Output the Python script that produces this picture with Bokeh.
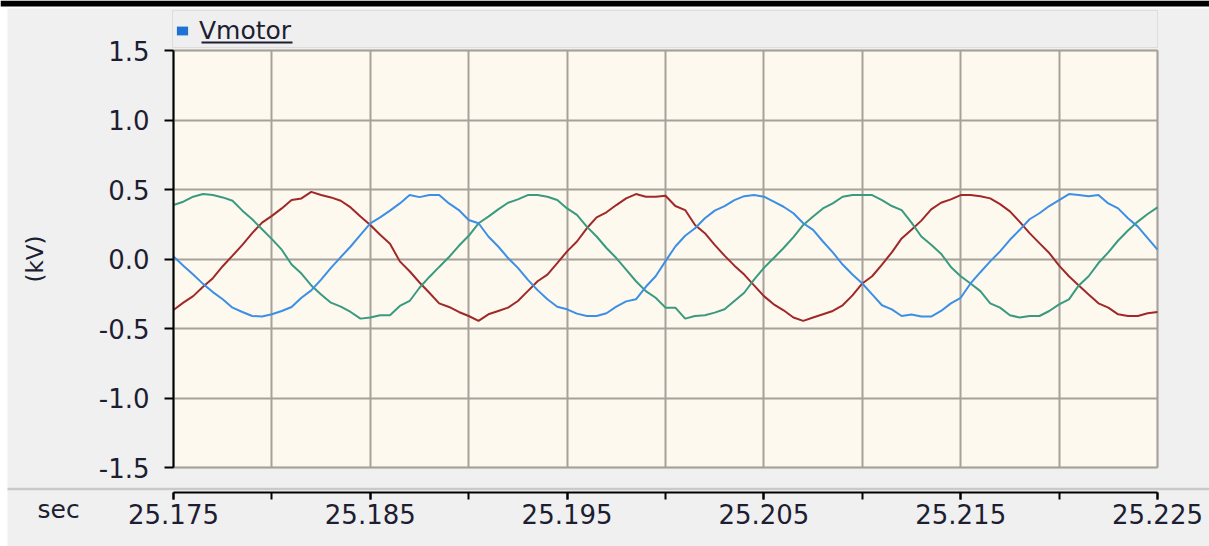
from bokeh.plotting import figure
from bokeh.models import (Legend, LegendItem, FixedTicker, Grid, Range1d,
                          Label, BoxAnnotation, LinearAxis)
from bokeh.embed import file_html
from bokeh.resources import INLINE

# ---------------- data ----------------
SERIES_NAME = "Vmotor"
Y_TITLE = "(kV)"
X_TITLE = "sec"

T_START = 25.175
T_STEP = 0.0005

PHASE_BLUE = [
    0.019, -0.048, -0.112, -0.179, -0.238, -0.290, -0.350, -0.381, -0.410, -0.414,
    -0.398, -0.374, -0.345, -0.279, -0.226, -0.148, -0.064, 0.014, 0.090, 0.174,
    0.257, 0.300, 0.348, 0.400, 0.460, 0.445, 0.460, 0.460, 0.400, 0.352,
    0.281, 0.257, 0.162, 0.090, 0.007, -0.064, -0.148, -0.224, -0.290, -0.343,
    -0.362, -0.393, -0.410, -0.410, -0.390, -0.343, -0.305, -0.290, -0.200, -0.124,
    -0.015, 0.090, 0.167, 0.221, 0.293, 0.348, 0.381, 0.424, 0.452, 0.460,
    0.448, 0.412, 0.376, 0.329, 0.257, 0.210, 0.126, 0.048, -0.040, -0.112,
    -0.176, -0.255, -0.333, -0.362, -0.410, -0.400, -0.414, -0.414, -0.374, -0.319,
    -0.279, -0.176, -0.095, -0.017, 0.055, 0.138, 0.210, 0.286, 0.329, 0.381,
    0.424, 0.467, 0.460, 0.452, 0.460, 0.400, 0.364, 0.293, 0.233, 0.150,
    0.067,
]
PHASE_RED = [
    -0.367, -0.314, -0.267, -0.200, -0.138, -0.052, 0.024, 0.102, 0.186, 0.262,
    0.310, 0.364, 0.424, 0.436, 0.483, 0.460, 0.443, 0.419, 0.371, 0.305,
    0.245, 0.174, 0.110, -0.017, -0.088, -0.169, -0.243, -0.319, -0.345, -0.381,
    -0.410, -0.445, -0.398, -0.374, -0.350, -0.302, -0.231, -0.160, -0.112, -0.029,
    0.055, 0.126, 0.221, 0.300, 0.336, 0.388, 0.436, 0.467, 0.448, 0.448,
    0.455, 0.381, 0.352, 0.245, 0.186, 0.102, 0.024, -0.048, -0.112, -0.190,
    -0.267, -0.326, -0.369, -0.421, -0.445, -0.421, -0.398, -0.374, -0.333, -0.262,
    -0.176, -0.124, -0.040, 0.048, 0.148, 0.210, 0.276, 0.357, 0.405, 0.429,
    0.460, 0.460, 0.452, 0.436, 0.395, 0.343, 0.267, 0.186, 0.114, 0.043,
    -0.048, -0.124, -0.190, -0.255, -0.319, -0.350, -0.398, -0.410, -0.410, -0.390,
    -0.381,
]
PHASE_GREEN = [
    0.388, 0.412, 0.448, 0.467, 0.460, 0.443, 0.419, 0.348, 0.286, 0.214,
    0.143, 0.067, -0.040, -0.105, -0.190, -0.255, -0.314, -0.343, -0.381, -0.429,
    -0.421, -0.405, -0.405, -0.338, -0.302, -0.207, -0.129, -0.057, 0.014, 0.095,
    0.167, 0.257, 0.305, 0.357, 0.405, 0.429, 0.460, 0.460, 0.448, 0.424,
    0.364, 0.317, 0.233, 0.162, 0.079, 0.007, -0.076, -0.160, -0.231, -0.279,
    -0.350, -0.350, -0.429, -0.410, -0.405, -0.386, -0.362, -0.302, -0.243, -0.148,
    -0.064, 0.007, 0.079, 0.157, 0.245, 0.305, 0.364, 0.400, 0.448, 0.460,
    0.460, 0.460, 0.424, 0.381, 0.352, 0.262, 0.162, 0.102, 0.038, -0.057,
    -0.124, -0.176, -0.231, -0.319, -0.350, -0.405, -0.421, -0.410, -0.410, -0.374,
    -0.326, -0.290, -0.190, -0.124, -0.029, 0.048, 0.133, 0.205, 0.269, 0.324,
    0.371,
]
TIME = [round(T_START + i * T_STEP, 6) for i in range(len(PHASE_BLUE))]

X_MIN, X_MAX = 25.175, 25.225
Y_MIN, Y_MAX = -1.5, 1.5
Y_TICKS = [-1.5, -1.0, -0.5, 0.0, 0.5, 1.0, 1.5]
Y_LABELS = ["-1.5", "-1.0", "-0.5", "0.0", "0.5", "1.0", "1.5"]
X_TICKS = [25.175, 25.185, 25.195, 25.205, 25.215, 25.225]
X_LABELS = ["25.175", "25.185", "25.195", "25.205", "25.215", "25.225"]
X_GRID = [25.175, 25.18, 25.185, 25.19, 25.195, 25.2, 25.205, 25.21, 25.215, 25.22, 25.225]

# ---------------- style / layout ----------------
FONT = "DejaVu Sans"
PAGE_BG = "#f0f0f0"
PLOT_BG = "#fdf9ef"
GRID_C = "#a6a29a"
TEXT_C = "#1e1e32"
BLUE = "#3d8fe6"
RED = "#a02828"
GREEN = "#3a9a80"
LEGEND_BLUE = "#1e72d4"
SEP_C = "#c9c9c9"

W, H = 1209, 546             # canvas
PLOT_L, PLOT_R = 173, 1157   # plot area in canvas pixels
PLOT_T, PLOT_B = 50, 467
AXIS_Y = 492                 # time-axis line
SEP_Y = 488.5                # separator line
LEG_T, LEG_B = 10, 47        # legend strip

XPP = (X_MAX - X_MIN) / (PLOT_R - PLOT_L)
YPP = (Y_MAX - Y_MIN) / (PLOT_B - PLOT_T)


def px_x(px):
    return X_MIN + (px - PLOT_L) * XPP


def px_y(py):
    return Y_MAX - (py - PLOT_T) * YPP


p = figure(width=W, height=H, min_border=0,
           x_range=Range1d(px_x(0), px_x(W)), y_range=Range1d(px_y(H), px_y(0)),
           x_axis_location=None, y_axis_location=None,
           output_backend="svg", toolbar_location=None,
           background_fill_color="white", border_fill_color="white",
           outline_line_color=None)
# drop the default (unbounded) grids
p.center = [r for r in p.center if not isinstance(r, Grid)]

# window chrome: dark bar at the very top, grey panel
p.add_layout(BoxAnnotation(left=px_x(0), right=px_x(W), top=px_y(0), bottom=px_y(6),
                           fill_color="black", fill_alpha=1.0, line_color=None, level="image"))
p.add_layout(BoxAnnotation(left=px_x(7), right=px_x(W), top=px_y(8), bottom=px_y(H),
                           fill_color=PAGE_BG, fill_alpha=1.0, line_color=None, level="image"))
# cream plot area with its border
p.add_layout(BoxAnnotation(left=X_MIN, right=X_MAX, bottom=Y_MIN, top=Y_MAX,
                           fill_color=PLOT_BG, fill_alpha=1.0,
                           line_color=GRID_C, line_width=2, level="image"))
# legend strip background
p.add_layout(BoxAnnotation(left=px_x(PLOT_L - 1), right=px_x(PLOT_R), top=px_y(LEG_T), bottom=px_y(LEG_B),
                           fill_color="#efefef", fill_alpha=1.0,
                           line_color="#b4b4b4", line_width=1, level="image"))


# grid lines, limited to the plot area
def add_grid(dim, ticks, cross):
    g = Grid(dimension=dim, ticker=FixedTicker(ticks=ticks),
             grid_line_color=GRID_C, grid_line_width=2)
    try:
        g.cross_bounds = cross
        p.add_layout(g)
    except (AttributeError, ValueError):
        if dim == 0:
            p.segment(x0=ticks, x1=ticks, y0=[cross[0]] * len(ticks), y1=[cross[1]] * len(ticks),
                      line_color=GRID_C, line_width=2)
        else:
            p.segment(y0=ticks, y1=ticks, x0=[cross[0]] * len(ticks), x1=[cross[1]] * len(ticks),
                      line_color=GRID_C, line_width=2)


add_grid(0, X_GRID, (Y_MIN, Y_MAX))
add_grid(1, Y_TICKS, (X_MIN, X_MAX))

# separator between plot and time axis
p.add_layout(BoxAnnotation(left=px_x(7), right=px_x(W), top=px_y(SEP_Y - 1.2), bottom=px_y(SEP_Y + 1.2),
                           fill_color=SEP_C, fill_alpha=1.0, line_color=None, level="underlay"))
# underline of the legend label
p.add_layout(BoxAnnotation(left=px_x(201), right=px_x(292), top=px_y(41), bottom=px_y(43),
                           fill_color=TEXT_C, fill_alpha=1.0, line_color=None, level="underlay"))

# data lines
p.line(TIME, PHASE_RED, line_color=RED, line_width=2)
p.line(TIME, PHASE_GREEN, line_color=GREEN, line_width=2)
p.line(TIME, PHASE_BLUE, line_color=BLUE, line_width=2)

# y axis
yax = LinearAxis(fixed_location=X_MIN, bounds=(Y_MIN, Y_MAX),
                 ticker=FixedTicker(ticks=Y_TICKS, minor_ticks=[]))
yax.major_label_overrides = {t: l for t, l in zip(Y_TICKS, Y_LABELS)}
yax.axis_label = Y_TITLE
yax.axis_label_text_font = FONT
yax.axis_label_text_font_size = "23px"
yax.axis_label_text_font_style = "normal"
yax.axis_label_text_color = TEXT_C
yax.axis_label_standoff = 48
yax.major_label_text_font = FONT
yax.major_label_text_font_size = "26px"
yax.major_label_text_color = TEXT_C
yax.major_label_standoff = 15
yax.axis_line_color = "black"
yax.axis_line_width = 2
yax.major_tick_line_color = "black"
yax.major_tick_line_width = 2
yax.major_tick_out = 9
yax.major_tick_in = 0
yax.minor_tick_line_color = None
p.add_layout(yax, "left")

# time axis
xax = LinearAxis(fixed_location=px_y(AXIS_Y), bounds=(X_MIN, X_MAX),
                 ticker=FixedTicker(ticks=X_TICKS, minor_ticks=X_GRID))
xax.major_label_overrides = {t: l for t, l in zip(X_TICKS, X_LABELS)}
xax.major_label_text_font = FONT
xax.major_label_text_font_size = "26px"
xax.major_label_text_color = TEXT_C
xax.major_label_standoff = 4
xax.axis_line_color = "black"
xax.axis_line_width = 2
xax.major_tick_line_color = "black"
xax.major_tick_line_width = 2
xax.major_tick_out = 7
xax.major_tick_in = 0
xax.minor_tick_line_color = "black"
xax.minor_tick_line_width = 2
xax.minor_tick_out = 7
xax.minor_tick_in = 0
p.add_layout(xax, "below")

p.add_layout(Label(x=px_x(37), y=px_y(509), text=X_TITLE,
                   text_baseline="middle", text_align="left",
                   text_font=FONT, text_font_size="25px", text_color=TEXT_C))

# legend (transparent: its strip is drawn above)
sq = p.quad(left=TIME[:1], right=TIME[:1], top=PHASE_BLUE[:1], bottom=PHASE_BLUE[:1],
            fill_color=LEGEND_BLUE, line_color=None)
LEG_W = PLOT_R - PLOT_L + 1
legend = Legend(items=[LegendItem(label=SERIES_NAME, renderers=[sq])],
                location=(PLOT_L + 2, H - LEG_B + 2), orientation="horizontal",
                margin=0, padding=5, spacing=0,
                glyph_width=14, glyph_height=11, label_standoff=10,
                label_width=LEG_W - 10 - 14 - 10 - 4, label_height=20,
                label_text_font=FONT, label_text_font_size="25px",
                label_text_color=TEXT_C,
                background_fill_alpha=0.0, border_line_color=None)
p.add_layout(legend)

open("out.html", "w").write(file_html(p, INLINE))
